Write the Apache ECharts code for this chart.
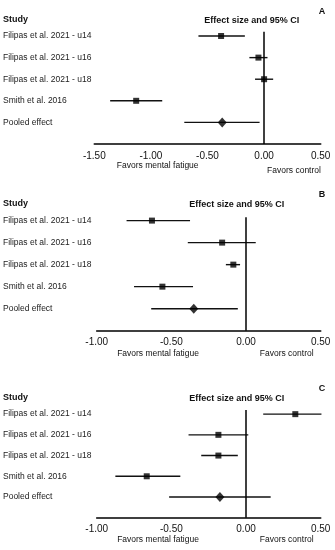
<!DOCTYPE html>
<html><head><meta charset="utf-8">
<script src="https://cdn.jsdelivr.net/npm/echarts@6/dist/echarts.min.js"></script>
<style>html,body{margin:0;padding:0;background:#fff}#c{width:335px;height:550px}</style>
</head><body><div id="c"></div>
<script>
var studies = ["Filipas et al. 2021 - u14","Filipas et al. 2021 - u16","Filipas et al. 2021 - u18","Smith et al. 2016","Pooled effect"];
var panelLetters = ["A","B","C"];
var A_est = [-0.38,-0.05,0.00,-1.13,-0.37];
var A_lo  = [-0.58,-0.13,-0.08,-1.36,-0.705];
var A_hi  = [-0.17,0.03,0.08,-0.90,-0.04];
var B_est = [-0.63,-0.16,-0.085,-0.56,-0.35];
var B_lo  = [-0.80,-0.39,-0.135,-0.75,-0.635];
var B_hi  = [-0.375,0.065,-0.04,-0.355,-0.055];
var C_est = [0.33,-0.185,-0.185,-0.665,-0.175];
var C_lo  = [0.115,-0.385,-0.30,-0.875,-0.515];
var C_hi  = [0.505,0.015,-0.055,-0.44,0.165];
var A_ticks = [-1.5,0.5];
var BC_ticks = [-1.0,0.5];

var chart = echarts.init(document.getElementById('c'), null, {renderer:'canvas'});
var FONT = 'Liberation Sans, Arial, sans-serif';
var panels = [
  {est:A_est, lo:A_lo, hi:A_hi, range:A_ticks, grid:{left:94.3, right:14.3, top:31.7, height:112.3}, ymin:-0.2, ymax:5,
   head:20.7, letterY:12, fav1:[157.7,166], fav2:[294,171], effX:251.7},
  {est:B_est, lo:B_lo, hi:B_hi, range:BC_ticks, grid:{left:96.7, right:14.3, top:217.3, height:113.4}, ymin:-0.15, ymax:5,
   head:205, letterY:195, fav1:[158,354], fav2:[286.7,354], effX:236.7},
  {est:C_est, lo:C_lo, hi:C_hi, range:BC_ticks, grid:{left:96.7, right:14.3, top:410, height:107.7}, ymin:-0.2, ymax:5,
   head:399, letterY:389, fav1:[158,540], fav2:[286.7,540], effX:236.7}
];

var grids=[], xAxes=[], yAxes=[], series=[], graphics=[];
panels.forEach(function(p, i){
  grids.push(p.grid);
  xAxes.push({gridIndex:i, type:'value', min:p.range[0], max:p.range[1], interval:0.5,
    axisLine:{show:true, onZero:false, lineStyle:{color:'#000', width:1.6}},
    axisTick:{show:false}, splitLine:{show:false},
    axisLabel:{color:'#111', fontSize:10, fontFamily:FONT, margin:7,
      formatter:function(v){return v.toFixed(2);}}});
  yAxes.push({gridIndex:i, type:'value', inverse:true, min:p.ymin, max:p.ymax,
    show:false, splitLine:{show:false}});
  var data = studies.map(function(s, k){ return [p.est[k], p.lo[k], p.hi[k], k, s]; });
  series.push({type:'custom', xAxisIndex:i, yAxisIndex:i, data:data, z:2,
    encode:{x:[0,1,2], y:3},
    renderItem:function(params, api){
      var lo = api.coord([api.value(1), api.value(3)]);
      var hi = api.coord([api.value(2), api.value(3)]);
      return {type:'group', children:[
        {type:'line', shape:{x1:lo[0], y1:lo[1], x2:hi[0], y2:hi[1]}, style:{stroke:'#111', lineWidth:1.4}},
        {type:'text', style:{x:3, y:lo[1], text:studies[api.value(3)], fill:'#222',
          font:'8.5px '+FONT, textAlign:'left', textVerticalAlign:'middle'}}
      ]};
    },
    markLine:{silent:true, symbol:'none', label:{show:false},
      lineStyle:{color:'#000', width:1.5, type:'solid'}, data:[{xAxis:0}]}
  });
  series.push({type:'scatter', xAxisIndex:i, yAxisIndex:i, z:3,
    data:studies.map(function(s,k){ return {value:[p.est[k], k],
      symbol: k===4 ? 'diamond' : 'rect', symbolSize: k===4 ? [9,10] : 6}; }),
    itemStyle:{color:'#000'}});
  graphics.push({type:'text', left:3, top:p.head-6, style:{text:'Study', font:'bold 9px '+FONT, fill:'#111'}});
  graphics.push({type:'text', x:p.effX, y:p.head, style:{text:'Effect size and 95% CI', font:'bold 9px '+FONT, fill:'#111', textAlign:'center', textVerticalAlign:'middle'}});
  graphics.push({type:'text', x:322, y:p.letterY, style:{text:panelLetters[i], font:'bold 9px '+FONT, fill:'#111', textAlign:'center', textVerticalAlign:'middle'}});
  graphics.push({type:'text', x:p.fav1[0], y:p.fav1[1], style:{text:'Favors mental fatigue', font:'8.5px '+FONT, fill:'#111', textAlign:'center', textVerticalAlign:'middle'}});
  graphics.push({type:'text', x:p.fav2[0], y:p.fav2[1], style:{text:'Favors control', font:'8.5px '+FONT, fill:'#111', textAlign:'center', textVerticalAlign:'middle'}});
});

chart.setOption({animation:false, backgroundColor:'#fff', grid:grids, xAxis:xAxes, yAxis:yAxes, series:series, graphic:graphics});
</script></body></html>
